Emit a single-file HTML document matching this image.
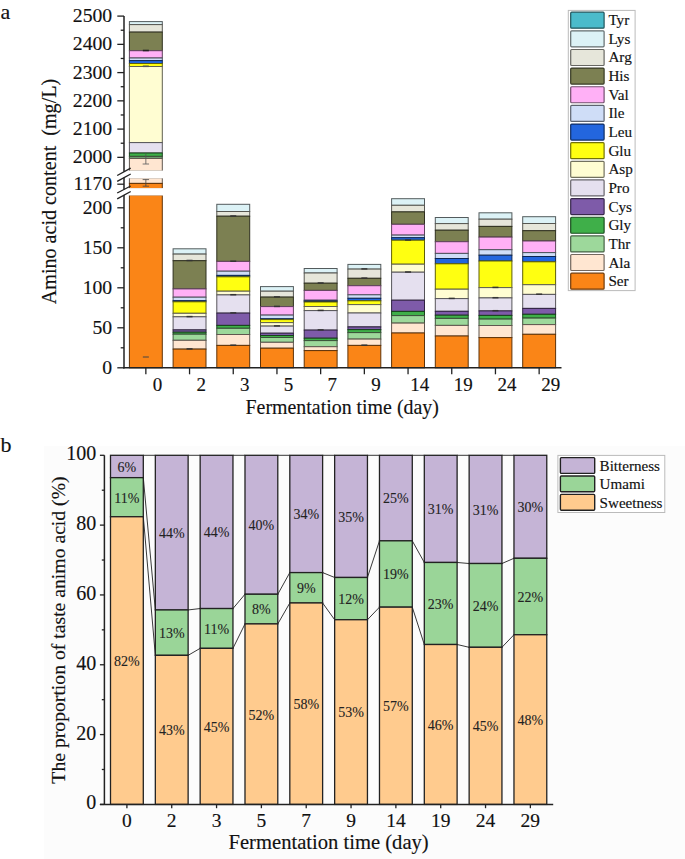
<!DOCTYPE html>
<html><head><meta charset="utf-8"><style>
html,body{margin:0;padding:0;background:#fff;}
svg{display:block;font-family:"Liberation Serif", serif;}
text{fill:#111;stroke:#111;stroke-width:0.15px;}
</style></head><body>
<svg width="685" height="859" viewBox="0 0 685 859">
<rect width="685" height="859" fill="#fff"/>
<rect x="173.10" y="248.80" width="32.90" height="5.30" fill="#DCF2F6" stroke="#535b5d" stroke-width="1.0"/>
<rect x="173.10" y="254.10" width="32.90" height="6.60" fill="#E6E6DA" stroke="#575752" stroke-width="1.0"/>
<rect x="173.10" y="260.70" width="32.90" height="28.20" fill="#7C8052" stroke="#2f301f" stroke-width="1.0"/>
<rect x="173.10" y="288.90" width="32.90" height="8.30" fill="#FFB0F6" stroke="#60425d" stroke-width="1.0"/>
<rect x="173.10" y="297.20" width="32.90" height="3.50" fill="#CFDDF7" stroke="#4e535d" stroke-width="1.0"/>
<rect x="173.10" y="300.70" width="32.90" height="1.10" fill="#2366DE" stroke="#0d2654" stroke-width="1.0"/>
<rect x="173.10" y="301.80" width="32.90" height="11.50" fill="#FFFF11" stroke="#606006" stroke-width="1.0"/>
<rect x="173.10" y="313.30" width="32.90" height="3.50" fill="#FFFDD2" stroke="#60604f" stroke-width="1.0"/>
<rect x="173.10" y="316.80" width="32.90" height="13.10" fill="#E5E0EF" stroke="#57555a" stroke-width="1.0"/>
<rect x="173.10" y="329.90" width="32.90" height="2.30" fill="#7E5BA9" stroke="#2f2240" stroke-width="1.0"/>
<rect x="173.10" y="332.20" width="32.90" height="2.00" fill="#3FAF49" stroke="#17421b" stroke-width="1.0"/>
<rect x="173.10" y="334.20" width="32.90" height="6.10" fill="#9DD89B" stroke="#3b523a" stroke-width="1.0"/>
<rect x="173.10" y="340.30" width="32.90" height="8.80" fill="#FFE6D1" stroke="#60574f" stroke-width="1.0"/>
<rect x="173.10" y="349.10" width="32.90" height="18.70" fill="#FA8517" stroke="#5f3208" stroke-width="1.0"/>
<rect x="216.80" y="204.30" width="32.90" height="7.20" fill="#DCF2F6" stroke="#535b5d" stroke-width="1.0"/>
<rect x="216.80" y="211.50" width="32.90" height="4.70" fill="#E6E6DA" stroke="#575752" stroke-width="1.0"/>
<rect x="216.80" y="216.20" width="32.90" height="45.20" fill="#7C8052" stroke="#2f301f" stroke-width="1.0"/>
<rect x="216.80" y="261.40" width="32.90" height="9.80" fill="#FFB0F6" stroke="#60425d" stroke-width="1.0"/>
<rect x="216.80" y="271.20" width="32.90" height="4.20" fill="#CFDDF7" stroke="#4e535d" stroke-width="1.0"/>
<rect x="216.80" y="275.40" width="32.90" height="1.40" fill="#2366DE" stroke="#0d2654" stroke-width="1.0"/>
<rect x="216.80" y="276.80" width="32.90" height="14.40" fill="#FFFF11" stroke="#606006" stroke-width="1.0"/>
<rect x="216.80" y="291.20" width="32.90" height="3.70" fill="#FFFDD2" stroke="#60604f" stroke-width="1.0"/>
<rect x="216.80" y="294.90" width="32.90" height="18.20" fill="#E5E0EF" stroke="#57555a" stroke-width="1.0"/>
<rect x="216.80" y="313.10" width="32.90" height="12.30" fill="#7E5BA9" stroke="#2f2240" stroke-width="1.0"/>
<rect x="216.80" y="325.40" width="32.90" height="2.90" fill="#3FAF49" stroke="#17421b" stroke-width="1.0"/>
<rect x="216.80" y="328.30" width="32.90" height="6.20" fill="#9DD89B" stroke="#3b523a" stroke-width="1.0"/>
<rect x="216.80" y="334.50" width="32.90" height="10.90" fill="#FFE6D1" stroke="#60574f" stroke-width="1.0"/>
<rect x="216.80" y="345.40" width="32.90" height="22.40" fill="#FA8517" stroke="#5f3208" stroke-width="1.0"/>
<rect x="260.50" y="286.60" width="32.90" height="4.60" fill="#DCF2F6" stroke="#535b5d" stroke-width="1.0"/>
<rect x="260.50" y="291.20" width="32.90" height="5.90" fill="#E6E6DA" stroke="#575752" stroke-width="1.0"/>
<rect x="260.50" y="297.10" width="32.90" height="9.50" fill="#7C8052" stroke="#2f301f" stroke-width="1.0"/>
<rect x="260.50" y="306.60" width="32.90" height="8.50" fill="#FFB0F6" stroke="#60425d" stroke-width="1.0"/>
<rect x="260.50" y="315.10" width="32.90" height="3.70" fill="#CFDDF7" stroke="#4e535d" stroke-width="1.0"/>
<rect x="260.50" y="318.80" width="32.90" height="0.80" fill="#2366DE" stroke="#0d2654" stroke-width="1.0"/>
<rect x="260.50" y="319.60" width="32.90" height="3.00" fill="#FFFF11" stroke="#606006" stroke-width="1.0"/>
<rect x="260.50" y="322.60" width="32.90" height="3.50" fill="#FFFDD2" stroke="#60604f" stroke-width="1.0"/>
<rect x="260.50" y="326.10" width="32.90" height="7.10" fill="#E5E0EF" stroke="#57555a" stroke-width="1.0"/>
<rect x="260.50" y="333.20" width="32.90" height="2.30" fill="#7E5BA9" stroke="#2f2240" stroke-width="1.0"/>
<rect x="260.50" y="335.50" width="32.90" height="2.00" fill="#3FAF49" stroke="#17421b" stroke-width="1.0"/>
<rect x="260.50" y="337.50" width="32.90" height="4.80" fill="#9DD89B" stroke="#3b523a" stroke-width="1.0"/>
<rect x="260.50" y="342.30" width="32.90" height="5.90" fill="#FFE6D1" stroke="#60574f" stroke-width="1.0"/>
<rect x="260.50" y="348.20" width="32.90" height="19.60" fill="#FA8517" stroke="#5f3208" stroke-width="1.0"/>
<rect x="304.20" y="268.50" width="32.90" height="4.50" fill="#DCF2F6" stroke="#535b5d" stroke-width="1.0"/>
<rect x="304.20" y="273.00" width="32.90" height="10.20" fill="#E6E6DA" stroke="#575752" stroke-width="1.0"/>
<rect x="304.20" y="283.20" width="32.90" height="7.20" fill="#7C8052" stroke="#2f301f" stroke-width="1.0"/>
<rect x="304.20" y="290.40" width="32.90" height="9.80" fill="#FFB0F6" stroke="#60425d" stroke-width="1.0"/>
<rect x="304.20" y="300.20" width="32.90" height="0.80" fill="#CFDDF7" stroke="#4e535d" stroke-width="1.0"/>
<rect x="304.20" y="301.00" width="32.90" height="1.00" fill="#2366DE" stroke="#0d2654" stroke-width="1.0"/>
<rect x="304.20" y="302.00" width="32.90" height="4.50" fill="#FFFF11" stroke="#606006" stroke-width="1.0"/>
<rect x="304.20" y="306.50" width="32.90" height="4.10" fill="#FFFDD2" stroke="#60604f" stroke-width="1.0"/>
<rect x="304.20" y="310.60" width="32.90" height="19.50" fill="#E5E0EF" stroke="#57555a" stroke-width="1.0"/>
<rect x="304.20" y="330.10" width="32.90" height="8.10" fill="#7E5BA9" stroke="#2f2240" stroke-width="1.0"/>
<rect x="304.20" y="338.20" width="32.90" height="2.40" fill="#3FAF49" stroke="#17421b" stroke-width="1.0"/>
<rect x="304.20" y="340.60" width="32.90" height="6.10" fill="#9DD89B" stroke="#3b523a" stroke-width="1.0"/>
<rect x="304.20" y="346.70" width="32.90" height="3.90" fill="#FFE6D1" stroke="#60574f" stroke-width="1.0"/>
<rect x="304.20" y="350.60" width="32.90" height="17.20" fill="#FA8517" stroke="#5f3208" stroke-width="1.0"/>
<rect x="347.90" y="264.40" width="32.90" height="4.70" fill="#DCF2F6" stroke="#535b5d" stroke-width="1.0"/>
<rect x="347.90" y="269.10" width="32.90" height="9.20" fill="#E6E6DA" stroke="#575752" stroke-width="1.0"/>
<rect x="347.90" y="278.30" width="32.90" height="7.40" fill="#7C8052" stroke="#2f301f" stroke-width="1.0"/>
<rect x="347.90" y="285.70" width="32.90" height="9.10" fill="#FFB0F6" stroke="#60425d" stroke-width="1.0"/>
<rect x="347.90" y="294.80" width="32.90" height="3.50" fill="#CFDDF7" stroke="#4e535d" stroke-width="1.0"/>
<rect x="347.90" y="298.30" width="32.90" height="2.50" fill="#2366DE" stroke="#0d2654" stroke-width="1.0"/>
<rect x="347.90" y="300.80" width="32.90" height="3.80" fill="#FFFF11" stroke="#606006" stroke-width="1.0"/>
<rect x="347.90" y="304.60" width="32.90" height="8.40" fill="#FFFDD2" stroke="#60604f" stroke-width="1.0"/>
<rect x="347.90" y="313.00" width="32.90" height="13.90" fill="#E5E0EF" stroke="#57555a" stroke-width="1.0"/>
<rect x="347.90" y="326.90" width="32.90" height="2.70" fill="#7E5BA9" stroke="#2f2240" stroke-width="1.0"/>
<rect x="347.90" y="329.60" width="32.90" height="3.00" fill="#3FAF49" stroke="#17421b" stroke-width="1.0"/>
<rect x="347.90" y="332.60" width="32.90" height="6.50" fill="#9DD89B" stroke="#3b523a" stroke-width="1.0"/>
<rect x="347.90" y="339.10" width="32.90" height="6.30" fill="#FFE6D1" stroke="#60574f" stroke-width="1.0"/>
<rect x="347.90" y="345.40" width="32.90" height="22.40" fill="#FA8517" stroke="#5f3208" stroke-width="1.0"/>
<rect x="391.60" y="198.70" width="32.90" height="6.60" fill="#DCF2F6" stroke="#535b5d" stroke-width="1.0"/>
<rect x="391.60" y="205.30" width="32.90" height="6.60" fill="#E6E6DA" stroke="#575752" stroke-width="1.0"/>
<rect x="391.60" y="211.90" width="32.90" height="12.40" fill="#7C8052" stroke="#2f301f" stroke-width="1.0"/>
<rect x="391.60" y="224.30" width="32.90" height="10.80" fill="#FFB0F6" stroke="#60425d" stroke-width="1.0"/>
<rect x="391.60" y="235.10" width="32.90" height="2.60" fill="#CFDDF7" stroke="#4e535d" stroke-width="1.0"/>
<rect x="391.60" y="237.70" width="32.90" height="2.50" fill="#2366DE" stroke="#0d2654" stroke-width="1.0"/>
<rect x="391.60" y="240.20" width="32.90" height="24.00" fill="#FFFF11" stroke="#606006" stroke-width="1.0"/>
<rect x="391.60" y="264.20" width="32.90" height="8.00" fill="#FFFDD2" stroke="#60604f" stroke-width="1.0"/>
<rect x="391.60" y="272.20" width="32.90" height="28.00" fill="#E5E0EF" stroke="#57555a" stroke-width="1.0"/>
<rect x="391.60" y="300.20" width="32.90" height="11.20" fill="#7E5BA9" stroke="#2f2240" stroke-width="1.0"/>
<rect x="391.60" y="311.40" width="32.90" height="4.20" fill="#3FAF49" stroke="#17421b" stroke-width="1.0"/>
<rect x="391.60" y="315.60" width="32.90" height="7.50" fill="#9DD89B" stroke="#3b523a" stroke-width="1.0"/>
<rect x="391.60" y="323.10" width="32.90" height="9.90" fill="#FFE6D1" stroke="#60574f" stroke-width="1.0"/>
<rect x="391.60" y="333.00" width="32.90" height="34.80" fill="#FA8517" stroke="#5f3208" stroke-width="1.0"/>
<rect x="435.30" y="217.50" width="32.90" height="6.10" fill="#DCF2F6" stroke="#535b5d" stroke-width="1.0"/>
<rect x="435.30" y="223.60" width="32.90" height="6.60" fill="#E6E6DA" stroke="#575752" stroke-width="1.0"/>
<rect x="435.30" y="230.20" width="32.90" height="11.50" fill="#7C8052" stroke="#2f301f" stroke-width="1.0"/>
<rect x="435.30" y="241.70" width="32.90" height="11.70" fill="#FFB0F6" stroke="#60425d" stroke-width="1.0"/>
<rect x="435.30" y="253.40" width="32.90" height="5.10" fill="#CFDDF7" stroke="#4e535d" stroke-width="1.0"/>
<rect x="435.30" y="258.50" width="32.90" height="5.30" fill="#2366DE" stroke="#0d2654" stroke-width="1.0"/>
<rect x="435.30" y="263.80" width="32.90" height="25.40" fill="#FFFF11" stroke="#606006" stroke-width="1.0"/>
<rect x="435.30" y="289.20" width="32.90" height="9.40" fill="#FFFDD2" stroke="#60604f" stroke-width="1.0"/>
<rect x="435.30" y="298.60" width="32.90" height="12.70" fill="#E5E0EF" stroke="#57555a" stroke-width="1.0"/>
<rect x="435.30" y="311.30" width="32.90" height="3.90" fill="#7E5BA9" stroke="#2f2240" stroke-width="1.0"/>
<rect x="435.30" y="315.20" width="32.90" height="3.20" fill="#3FAF49" stroke="#17421b" stroke-width="1.0"/>
<rect x="435.30" y="318.40" width="32.90" height="7.00" fill="#9DD89B" stroke="#3b523a" stroke-width="1.0"/>
<rect x="435.30" y="325.40" width="32.90" height="10.60" fill="#FFE6D1" stroke="#60574f" stroke-width="1.0"/>
<rect x="435.30" y="336.00" width="32.90" height="31.80" fill="#FA8517" stroke="#5f3208" stroke-width="1.0"/>
<rect x="479.00" y="212.80" width="32.90" height="6.40" fill="#DCF2F6" stroke="#535b5d" stroke-width="1.0"/>
<rect x="479.00" y="219.20" width="32.90" height="7.20" fill="#E6E6DA" stroke="#575752" stroke-width="1.0"/>
<rect x="479.00" y="226.40" width="32.90" height="10.70" fill="#7C8052" stroke="#2f301f" stroke-width="1.0"/>
<rect x="479.00" y="237.10" width="32.90" height="12.60" fill="#FFB0F6" stroke="#60425d" stroke-width="1.0"/>
<rect x="479.00" y="249.70" width="32.90" height="5.50" fill="#CFDDF7" stroke="#4e535d" stroke-width="1.0"/>
<rect x="479.00" y="255.20" width="32.90" height="5.80" fill="#2366DE" stroke="#0d2654" stroke-width="1.0"/>
<rect x="479.00" y="261.00" width="32.90" height="26.60" fill="#FFFF11" stroke="#606006" stroke-width="1.0"/>
<rect x="479.00" y="287.60" width="32.90" height="10.30" fill="#FFFDD2" stroke="#60604f" stroke-width="1.0"/>
<rect x="479.00" y="297.90" width="32.90" height="13.00" fill="#E5E0EF" stroke="#57555a" stroke-width="1.0"/>
<rect x="479.00" y="310.90" width="32.90" height="4.50" fill="#7E5BA9" stroke="#2f2240" stroke-width="1.0"/>
<rect x="479.00" y="315.40" width="32.90" height="3.70" fill="#3FAF49" stroke="#17421b" stroke-width="1.0"/>
<rect x="479.00" y="319.10" width="32.90" height="6.40" fill="#9DD89B" stroke="#3b523a" stroke-width="1.0"/>
<rect x="479.00" y="325.50" width="32.90" height="12.10" fill="#FFE6D1" stroke="#60574f" stroke-width="1.0"/>
<rect x="479.00" y="337.60" width="32.90" height="30.20" fill="#FA8517" stroke="#5f3208" stroke-width="1.0"/>
<rect x="522.70" y="216.70" width="32.90" height="6.80" fill="#DCF2F6" stroke="#535b5d" stroke-width="1.0"/>
<rect x="522.70" y="223.50" width="32.90" height="7.20" fill="#E6E6DA" stroke="#575752" stroke-width="1.0"/>
<rect x="522.70" y="230.70" width="32.90" height="10.30" fill="#7C8052" stroke="#2f301f" stroke-width="1.0"/>
<rect x="522.70" y="241.00" width="32.90" height="11.60" fill="#FFB0F6" stroke="#60425d" stroke-width="1.0"/>
<rect x="522.70" y="252.60" width="32.90" height="3.90" fill="#CFDDF7" stroke="#4e535d" stroke-width="1.0"/>
<rect x="522.70" y="256.50" width="32.90" height="5.30" fill="#2366DE" stroke="#0d2654" stroke-width="1.0"/>
<rect x="522.70" y="261.80" width="32.90" height="22.90" fill="#FFFF11" stroke="#606006" stroke-width="1.0"/>
<rect x="522.70" y="284.70" width="32.90" height="9.70" fill="#FFFDD2" stroke="#60604f" stroke-width="1.0"/>
<rect x="522.70" y="294.40" width="32.90" height="14.00" fill="#E5E0EF" stroke="#57555a" stroke-width="1.0"/>
<rect x="522.70" y="308.40" width="32.90" height="5.90" fill="#7E5BA9" stroke="#2f2240" stroke-width="1.0"/>
<rect x="522.70" y="314.30" width="32.90" height="3.80" fill="#3FAF49" stroke="#17421b" stroke-width="1.0"/>
<rect x="522.70" y="318.10" width="32.90" height="6.50" fill="#9DD89B" stroke="#3b523a" stroke-width="1.0"/>
<rect x="522.70" y="324.60" width="32.90" height="9.70" fill="#FFE6D1" stroke="#60574f" stroke-width="1.0"/>
<rect x="522.70" y="334.30" width="32.90" height="33.50" fill="#FA8517" stroke="#5f3208" stroke-width="1.0"/>
<rect x="129.40" y="21.60" width="32.90" height="3.00" fill="#DCF2F6" stroke="#535b5d" stroke-width="1.0"/>
<rect x="129.40" y="24.60" width="32.90" height="7.50" fill="#E6E6DA" stroke="#575752" stroke-width="1.0"/>
<rect x="129.40" y="32.10" width="32.90" height="18.60" fill="#7C8052" stroke="#2f301f" stroke-width="1.0"/>
<rect x="129.40" y="50.70" width="32.90" height="7.30" fill="#FFB0F6" stroke="#60425d" stroke-width="1.0"/>
<rect x="129.40" y="58.00" width="32.90" height="2.60" fill="#CFDDF7" stroke="#4e535d" stroke-width="1.0"/>
<rect x="129.40" y="60.60" width="32.90" height="2.90" fill="#2366DE" stroke="#0d2654" stroke-width="1.0"/>
<rect x="129.40" y="63.50" width="32.90" height="3.00" fill="#FFFF11" stroke="#606006" stroke-width="1.0"/>
<rect x="129.40" y="66.50" width="32.90" height="76.10" fill="#FFFDD2" stroke="#60604f" stroke-width="1.0"/>
<rect x="129.40" y="142.60" width="32.90" height="10.40" fill="#E5E0EF" stroke="#57555a" stroke-width="1.0"/>
<rect x="129.40" y="153.00" width="32.90" height="3.40" fill="#3FAF49" stroke="#17421b" stroke-width="1.0"/>
<rect x="129.40" y="156.40" width="32.90" height="2.10" fill="#6E9A6E" stroke="#3b523a" stroke-width="1.0"/>
<rect x="129.40" y="158.50" width="32.90" height="12.60" fill="#FFE6D1" stroke="#60574f" stroke-width="1.0"/>
<rect x="129.40" y="177.80" width="32.90" height="5.60" fill="#FFE6D1" stroke="#60574f" stroke-width="1.0"/>
<rect x="129.40" y="183.40" width="32.90" height="5.20" fill="#FA8517" stroke="#5f3208" stroke-width="1.0"/>
<rect x="129.40" y="195.00" width="32.90" height="172.80" fill="#FA8517" stroke="#5f3208" stroke-width="1.0"/>
<rect x="128.40" y="170.6" width="34.90" height="7.7" fill="#fff"/>
<rect x="128.40" y="188.1" width="34.90" height="7.4" fill="#fff"/>
<line x1="145.85" y1="153.80" x2="145.85" y2="164.00" stroke="#555" stroke-width="0.8"/>
<line x1="142.65" y1="164.00" x2="149.05" y2="164.00" stroke="#666" stroke-width="0.9"/>
<line x1="145.85" y1="179.60" x2="145.85" y2="186.20" stroke="#444" stroke-width="0.8"/>
<line x1="142.65" y1="179.60" x2="149.05" y2="179.60" stroke="#444" stroke-width="0.8"/>
<line x1="142.65" y1="186.20" x2="149.05" y2="186.20" stroke="#444" stroke-width="0.8"/>
<line x1="142.85" y1="357.00" x2="148.85" y2="357.00" stroke="#444" stroke-width="1.0"/>
<line x1="142.85" y1="50.50" x2="148.85" y2="50.50" stroke="#222" stroke-width="1.6"/>
<line x1="142.85" y1="66.30" x2="148.85" y2="66.30" stroke="#555" stroke-width="1.6"/>
<line x1="186.55" y1="260.50" x2="192.55" y2="260.50" stroke="#333" stroke-width="1.5"/>
<line x1="186.55" y1="316.60" x2="192.55" y2="316.60" stroke="#333" stroke-width="1.5"/>
<line x1="186.55" y1="348.90" x2="192.55" y2="348.90" stroke="#333" stroke-width="1.5"/>
<line x1="230.25" y1="216.00" x2="236.25" y2="216.00" stroke="#333" stroke-width="1.5"/>
<line x1="230.25" y1="261.20" x2="236.25" y2="261.20" stroke="#333" stroke-width="1.5"/>
<line x1="230.25" y1="294.70" x2="236.25" y2="294.70" stroke="#333" stroke-width="1.5"/>
<line x1="230.25" y1="312.90" x2="236.25" y2="312.90" stroke="#333" stroke-width="1.5"/>
<line x1="230.25" y1="345.20" x2="236.25" y2="345.20" stroke="#333" stroke-width="1.5"/>
<line x1="273.95" y1="296.90" x2="279.95" y2="296.90" stroke="#333" stroke-width="1.5"/>
<line x1="273.95" y1="306.40" x2="279.95" y2="306.40" stroke="#333" stroke-width="1.5"/>
<line x1="273.95" y1="325.90" x2="279.95" y2="325.90" stroke="#333" stroke-width="1.5"/>
<line x1="317.65" y1="283.00" x2="323.65" y2="283.00" stroke="#333" stroke-width="1.5"/>
<line x1="317.65" y1="310.40" x2="323.65" y2="310.40" stroke="#333" stroke-width="1.5"/>
<line x1="317.65" y1="329.90" x2="323.65" y2="329.90" stroke="#333" stroke-width="1.5"/>
<line x1="361.35" y1="268.90" x2="367.35" y2="268.90" stroke="#333" stroke-width="1.5"/>
<line x1="361.35" y1="278.10" x2="367.35" y2="278.10" stroke="#333" stroke-width="1.5"/>
<line x1="361.35" y1="345.20" x2="367.35" y2="345.20" stroke="#333" stroke-width="1.5"/>
<line x1="405.05" y1="240.00" x2="411.05" y2="240.00" stroke="#333" stroke-width="1.5"/>
<line x1="405.05" y1="272.00" x2="411.05" y2="272.00" stroke="#333" stroke-width="1.5"/>
<line x1="448.75" y1="298.40" x2="454.75" y2="298.40" stroke="#333" stroke-width="1.5"/>
<line x1="492.45" y1="287.40" x2="498.45" y2="287.40" stroke="#333" stroke-width="1.5"/>
<line x1="492.45" y1="297.70" x2="498.45" y2="297.70" stroke="#333" stroke-width="1.5"/>
<line x1="492.45" y1="310.70" x2="498.45" y2="310.70" stroke="#333" stroke-width="1.5"/>
<line x1="536.15" y1="294.20" x2="542.15" y2="294.20" stroke="#333" stroke-width="1.5"/>
<line x1="124.00" y1="16.10" x2="124.00" y2="171.80" stroke="#222" stroke-width="1.5"/>
<line x1="124.00" y1="177.60" x2="124.00" y2="189.50" stroke="#222" stroke-width="1.5"/>
<line x1="124.00" y1="195.10" x2="124.00" y2="368.50" stroke="#222" stroke-width="1.5"/>
<line x1="123.30" y1="367.80" x2="561.50" y2="367.80" stroke="#222" stroke-width="1.5"/>
<line x1="117.30" y1="157.35" x2="124.00" y2="157.35" stroke="#222" stroke-width="1.3"/>
<text x="112.20" y="163.25" font-size="19.7" text-anchor="end" >2000</text>
<line x1="120.70" y1="143.22" x2="124.00" y2="143.22" stroke="#222" stroke-width="1.3"/>
<line x1="117.30" y1="129.10" x2="124.00" y2="129.10" stroke="#222" stroke-width="1.3"/>
<text x="112.20" y="135.00" font-size="19.7" text-anchor="end" >2100</text>
<line x1="120.70" y1="114.97" x2="124.00" y2="114.97" stroke="#222" stroke-width="1.3"/>
<line x1="117.30" y1="100.85" x2="124.00" y2="100.85" stroke="#222" stroke-width="1.3"/>
<text x="112.20" y="106.75" font-size="19.7" text-anchor="end" >2200</text>
<line x1="120.70" y1="86.72" x2="124.00" y2="86.72" stroke="#222" stroke-width="1.3"/>
<line x1="117.30" y1="72.60" x2="124.00" y2="72.60" stroke="#222" stroke-width="1.3"/>
<text x="112.20" y="78.50" font-size="19.7" text-anchor="end" >2300</text>
<line x1="120.70" y1="58.47" x2="124.00" y2="58.47" stroke="#222" stroke-width="1.3"/>
<line x1="117.30" y1="44.35" x2="124.00" y2="44.35" stroke="#222" stroke-width="1.3"/>
<text x="112.20" y="50.25" font-size="19.7" text-anchor="end" >2400</text>
<line x1="120.70" y1="30.23" x2="124.00" y2="30.23" stroke="#222" stroke-width="1.3"/>
<line x1="117.30" y1="16.10" x2="124.00" y2="16.10" stroke="#222" stroke-width="1.3"/>
<text x="112.20" y="22.00" font-size="19.7" text-anchor="end" >2500</text>
<line x1="117.30" y1="184.20" x2="124.00" y2="184.20" stroke="#222" stroke-width="1.3"/>
<text x="112.20" y="189.90" font-size="19.7" text-anchor="end" >1170</text>
<line x1="117.30" y1="367.80" x2="124.00" y2="367.80" stroke="#222" stroke-width="1.3"/>
<text x="112.20" y="373.70" font-size="19.7" text-anchor="end" >0</text>
<line x1="120.70" y1="347.80" x2="124.00" y2="347.80" stroke="#222" stroke-width="1.3"/>
<line x1="117.30" y1="327.80" x2="124.00" y2="327.80" stroke="#222" stroke-width="1.3"/>
<text x="112.20" y="333.70" font-size="19.7" text-anchor="end" >50</text>
<line x1="120.70" y1="307.80" x2="124.00" y2="307.80" stroke="#222" stroke-width="1.3"/>
<line x1="117.30" y1="287.80" x2="124.00" y2="287.80" stroke="#222" stroke-width="1.3"/>
<text x="112.20" y="293.70" font-size="19.7" text-anchor="end" >100</text>
<line x1="120.70" y1="267.80" x2="124.00" y2="267.80" stroke="#222" stroke-width="1.3"/>
<line x1="117.30" y1="247.80" x2="124.00" y2="247.80" stroke="#222" stroke-width="1.3"/>
<text x="112.20" y="253.70" font-size="19.7" text-anchor="end" >150</text>
<line x1="120.70" y1="227.80" x2="124.00" y2="227.80" stroke="#222" stroke-width="1.3"/>
<line x1="117.30" y1="207.80" x2="124.00" y2="207.80" stroke="#222" stroke-width="1.3"/>
<text x="112.20" y="213.70" font-size="19.7" text-anchor="end" >200</text>
<line x1="117.20" y1="175.50" x2="130.70" y2="168.20" stroke="#222" stroke-width="1.4"/>
<line x1="117.20" y1="181.30" x2="130.70" y2="174.00" stroke="#222" stroke-width="1.4"/>
<line x1="117.20" y1="193.00" x2="130.70" y2="186.00" stroke="#222" stroke-width="1.4"/>
<line x1="117.20" y1="198.80" x2="130.70" y2="191.50" stroke="#222" stroke-width="1.4"/>
<line x1="145.85" y1="367.80" x2="145.85" y2="374.30" stroke="#222" stroke-width="1.3"/>
<text x="157.45" y="391.40" font-size="19" text-anchor="middle" >0</text>
<line x1="189.55" y1="367.80" x2="189.55" y2="374.30" stroke="#222" stroke-width="1.3"/>
<text x="201.15" y="391.40" font-size="19" text-anchor="middle" >2</text>
<line x1="233.25" y1="367.80" x2="233.25" y2="374.30" stroke="#222" stroke-width="1.3"/>
<text x="244.85" y="391.40" font-size="19" text-anchor="middle" >3</text>
<line x1="276.95" y1="367.80" x2="276.95" y2="374.30" stroke="#222" stroke-width="1.3"/>
<text x="288.55" y="391.40" font-size="19" text-anchor="middle" >5</text>
<line x1="320.65" y1="367.80" x2="320.65" y2="374.30" stroke="#222" stroke-width="1.3"/>
<text x="332.25" y="391.40" font-size="19" text-anchor="middle" >7</text>
<line x1="364.35" y1="367.80" x2="364.35" y2="374.30" stroke="#222" stroke-width="1.3"/>
<text x="375.95" y="391.40" font-size="19" text-anchor="middle" >9</text>
<line x1="408.05" y1="367.80" x2="408.05" y2="374.30" stroke="#222" stroke-width="1.3"/>
<text x="419.65" y="391.40" font-size="19" text-anchor="middle" >14</text>
<line x1="451.75" y1="367.80" x2="451.75" y2="374.30" stroke="#222" stroke-width="1.3"/>
<text x="463.35" y="391.40" font-size="19" text-anchor="middle" >19</text>
<line x1="495.45" y1="367.80" x2="495.45" y2="374.30" stroke="#222" stroke-width="1.3"/>
<text x="507.05" y="391.40" font-size="19" text-anchor="middle" >24</text>
<line x1="539.15" y1="367.80" x2="539.15" y2="374.30" stroke="#222" stroke-width="1.3"/>
<text x="550.75" y="391.40" font-size="19" text-anchor="middle" >29</text>
<text x="342.20" y="413.90" font-size="19.9" text-anchor="middle" >Fermentation time (day)</text>
<text transform="translate(56.3,191.5) rotate(-90)" font-size="20.1" text-anchor="middle" xml:space="preserve" style="white-space:pre">Amino acid content  (mg/L)</text>
<text x="0.50" y="19.00" font-size="22" text-anchor="start" >a</text>
<rect x="568.3" y="10.4" width="66.8" height="280.2" fill="#fff" stroke="#bbb" stroke-width="1"/>
<rect x="570.7" y="12.20" width="33.4" height="16.0" rx="1" fill="#4BBBCB" stroke="#21545b" stroke-width="1.2"/>
<text x="608.40" y="25.20" font-size="15.2" text-anchor="start" >Tyr</text>
<rect x="570.7" y="30.84" width="33.4" height="16.0" rx="1" fill="#DCF2F6" stroke="#636c6e" stroke-width="1.2"/>
<text x="608.40" y="43.84" font-size="15.2" text-anchor="start" >Lys</text>
<rect x="570.7" y="49.48" width="33.4" height="16.0" rx="1" fill="#E6E6DA" stroke="#676762" stroke-width="1.2"/>
<text x="608.40" y="62.48" font-size="15.2" text-anchor="start" >Arg</text>
<rect x="570.7" y="68.12" width="33.4" height="16.0" rx="1" fill="#7C8052" stroke="#373924" stroke-width="1.2"/>
<text x="608.40" y="81.12" font-size="15.2" text-anchor="start" >His</text>
<rect x="570.7" y="86.76" width="33.4" height="16.0" rx="1" fill="#FFB0F6" stroke="#724f6e" stroke-width="1.2"/>
<text x="608.40" y="99.76" font-size="15.2" text-anchor="start" >Val</text>
<rect x="570.7" y="105.40" width="33.4" height="16.0" rx="1" fill="#CFDDF7" stroke="#5d636f" stroke-width="1.2"/>
<text x="608.40" y="118.40" font-size="15.2" text-anchor="start" >Ile</text>
<rect x="570.7" y="124.04" width="33.4" height="16.0" rx="1" fill="#2366DE" stroke="#0f2d63" stroke-width="1.2"/>
<text x="608.40" y="137.04" font-size="15.2" text-anchor="start" >Leu</text>
<rect x="570.7" y="142.68" width="33.4" height="16.0" rx="1" fill="#FFFF11" stroke="#727207" stroke-width="1.2"/>
<text x="608.40" y="155.68" font-size="15.2" text-anchor="start" >Glu</text>
<rect x="570.7" y="161.32" width="33.4" height="16.0" rx="1" fill="#FFFDD2" stroke="#72715e" stroke-width="1.2"/>
<text x="608.40" y="174.32" font-size="15.2" text-anchor="start" >Asp</text>
<rect x="570.7" y="179.96" width="33.4" height="16.0" rx="1" fill="#E5E0EF" stroke="#67646b" stroke-width="1.2"/>
<text x="608.40" y="192.96" font-size="15.2" text-anchor="start" >Pro</text>
<rect x="570.7" y="198.60" width="33.4" height="16.0" rx="1" fill="#7E5BA9" stroke="#38284c" stroke-width="1.2"/>
<text x="608.40" y="211.60" font-size="15.2" text-anchor="start" >Cys</text>
<rect x="570.7" y="217.24" width="33.4" height="16.0" rx="1" fill="#3FAF49" stroke="#1c4e20" stroke-width="1.2"/>
<text x="608.40" y="230.24" font-size="15.2" text-anchor="start" >Gly</text>
<rect x="570.7" y="235.88" width="33.4" height="16.0" rx="1" fill="#9DD89B" stroke="#466145" stroke-width="1.2"/>
<text x="608.40" y="248.88" font-size="15.2" text-anchor="start" >Thr</text>
<rect x="570.7" y="254.52" width="33.4" height="16.0" rx="1" fill="#FFE6D1" stroke="#72675e" stroke-width="1.2"/>
<text x="608.40" y="267.52" font-size="15.2" text-anchor="start" >Ala</text>
<rect x="570.7" y="273.16" width="33.4" height="16.0" rx="1" fill="#FA8517" stroke="#703b0a" stroke-width="1.2"/>
<text x="608.40" y="286.16" font-size="15.2" text-anchor="start" >Ser</text>
<rect x="44" y="446" width="641" height="413" fill="#fcfcfc"/>
<rect x="110.50" y="455.30" width="32.80" height="22.34" fill="#C5B4D6" stroke="#222" stroke-width="1.3"/>
<rect x="110.50" y="477.64" width="32.80" height="39.10" fill="#9AD598" stroke="#222" stroke-width="1.3"/>
<rect x="110.50" y="516.74" width="32.80" height="287.66" fill="#FFCB8E" stroke="#222" stroke-width="1.3"/>
<text x="126.90" y="471.87" font-size="14" text-anchor="middle" style="fill:#222;stroke:#222;stroke-width:0.1px">6%</text>
<text x="126.90" y="502.59" font-size="14" text-anchor="middle" style="fill:#222;stroke:#222;stroke-width:0.1px">11%</text>
<text x="126.90" y="665.97" font-size="14" text-anchor="middle" style="fill:#222;stroke:#222;stroke-width:0.1px">82%</text>
<rect x="155.33" y="455.30" width="32.80" height="154.65" fill="#C5B4D6" stroke="#222" stroke-width="1.3"/>
<rect x="155.33" y="609.95" width="32.80" height="45.38" fill="#9AD598" stroke="#222" stroke-width="1.3"/>
<rect x="155.33" y="655.33" width="32.80" height="149.07" fill="#FFCB8E" stroke="#222" stroke-width="1.3"/>
<text x="171.73" y="538.03" font-size="14" text-anchor="middle" style="fill:#222;stroke:#222;stroke-width:0.1px">44%</text>
<text x="171.73" y="638.04" font-size="14" text-anchor="middle" style="fill:#222;stroke:#222;stroke-width:0.1px">13%</text>
<text x="171.73" y="735.27" font-size="14" text-anchor="middle" style="fill:#222;stroke:#222;stroke-width:0.1px">43%</text>
<rect x="200.16" y="455.30" width="32.80" height="153.25" fill="#C5B4D6" stroke="#222" stroke-width="1.3"/>
<rect x="200.16" y="608.55" width="32.80" height="39.80" fill="#9AD598" stroke="#222" stroke-width="1.3"/>
<rect x="200.16" y="648.35" width="32.80" height="156.05" fill="#FFCB8E" stroke="#222" stroke-width="1.3"/>
<text x="216.56" y="537.33" font-size="14" text-anchor="middle" style="fill:#222;stroke:#222;stroke-width:0.1px">44%</text>
<text x="216.56" y="633.85" font-size="14" text-anchor="middle" style="fill:#222;stroke:#222;stroke-width:0.1px">11%</text>
<text x="216.56" y="731.78" font-size="14" text-anchor="middle" style="fill:#222;stroke:#222;stroke-width:0.1px">45%</text>
<rect x="244.99" y="455.30" width="32.80" height="138.94" fill="#C5B4D6" stroke="#222" stroke-width="1.3"/>
<rect x="244.99" y="594.24" width="32.80" height="29.67" fill="#9AD598" stroke="#222" stroke-width="1.3"/>
<rect x="244.99" y="623.92" width="32.80" height="180.48" fill="#FFCB8E" stroke="#222" stroke-width="1.3"/>
<text x="261.39" y="530.17" font-size="14" text-anchor="middle" style="fill:#222;stroke:#222;stroke-width:0.1px">40%</text>
<text x="261.39" y="614.48" font-size="14" text-anchor="middle" style="fill:#222;stroke:#222;stroke-width:0.1px">8%</text>
<text x="261.39" y="719.56" font-size="14" text-anchor="middle" style="fill:#222;stroke:#222;stroke-width:0.1px">52%</text>
<rect x="289.82" y="455.30" width="32.80" height="117.30" fill="#C5B4D6" stroke="#222" stroke-width="1.3"/>
<rect x="289.82" y="572.60" width="32.80" height="30.37" fill="#9AD598" stroke="#222" stroke-width="1.3"/>
<rect x="289.82" y="602.97" width="32.80" height="201.43" fill="#FFCB8E" stroke="#222" stroke-width="1.3"/>
<text x="306.22" y="519.35" font-size="14" text-anchor="middle" style="fill:#222;stroke:#222;stroke-width:0.1px">34%</text>
<text x="306.22" y="593.18" font-size="14" text-anchor="middle" style="fill:#222;stroke:#222;stroke-width:0.1px">9%</text>
<text x="306.22" y="709.08" font-size="14" text-anchor="middle" style="fill:#222;stroke:#222;stroke-width:0.1px">58%</text>
<rect x="334.65" y="455.30" width="32.80" height="122.18" fill="#C5B4D6" stroke="#222" stroke-width="1.3"/>
<rect x="334.65" y="577.48" width="32.80" height="42.24" fill="#9AD598" stroke="#222" stroke-width="1.3"/>
<rect x="334.65" y="619.73" width="32.80" height="184.67" fill="#FFCB8E" stroke="#222" stroke-width="1.3"/>
<text x="351.05" y="521.79" font-size="14" text-anchor="middle" style="fill:#222;stroke:#222;stroke-width:0.1px">35%</text>
<text x="351.05" y="604.01" font-size="14" text-anchor="middle" style="fill:#222;stroke:#222;stroke-width:0.1px">12%</text>
<text x="351.05" y="717.46" font-size="14" text-anchor="middle" style="fill:#222;stroke:#222;stroke-width:0.1px">53%</text>
<rect x="379.48" y="455.30" width="32.80" height="85.53" fill="#C5B4D6" stroke="#222" stroke-width="1.3"/>
<rect x="379.48" y="540.83" width="32.80" height="66.33" fill="#9AD598" stroke="#222" stroke-width="1.3"/>
<rect x="379.48" y="607.16" width="32.80" height="197.24" fill="#FFCB8E" stroke="#222" stroke-width="1.3"/>
<text x="395.88" y="503.46" font-size="14" text-anchor="middle" style="fill:#222;stroke:#222;stroke-width:0.1px">25%</text>
<text x="395.88" y="579.39" font-size="14" text-anchor="middle" style="fill:#222;stroke:#222;stroke-width:0.1px">19%</text>
<text x="395.88" y="711.18" font-size="14" text-anchor="middle" style="fill:#222;stroke:#222;stroke-width:0.1px">57%</text>
<rect x="424.31" y="455.30" width="32.80" height="107.17" fill="#C5B4D6" stroke="#222" stroke-width="1.3"/>
<rect x="424.31" y="562.47" width="32.80" height="82.04" fill="#9AD598" stroke="#222" stroke-width="1.3"/>
<rect x="424.31" y="644.51" width="32.80" height="159.89" fill="#FFCB8E" stroke="#222" stroke-width="1.3"/>
<text x="440.71" y="514.29" font-size="14" text-anchor="middle" style="fill:#222;stroke:#222;stroke-width:0.1px">31%</text>
<text x="440.71" y="608.89" font-size="14" text-anchor="middle" style="fill:#222;stroke:#222;stroke-width:0.1px">23%</text>
<text x="440.71" y="729.86" font-size="14" text-anchor="middle" style="fill:#222;stroke:#222;stroke-width:0.1px">46%</text>
<rect x="469.14" y="455.30" width="32.80" height="108.22" fill="#C5B4D6" stroke="#222" stroke-width="1.3"/>
<rect x="469.14" y="563.52" width="32.80" height="83.78" fill="#9AD598" stroke="#222" stroke-width="1.3"/>
<rect x="469.14" y="647.30" width="32.80" height="157.10" fill="#FFCB8E" stroke="#222" stroke-width="1.3"/>
<text x="485.54" y="514.81" font-size="14" text-anchor="middle" style="fill:#222;stroke:#222;stroke-width:0.1px">31%</text>
<text x="485.54" y="610.81" font-size="14" text-anchor="middle" style="fill:#222;stroke:#222;stroke-width:0.1px">24%</text>
<text x="485.54" y="731.25" font-size="14" text-anchor="middle" style="fill:#222;stroke:#222;stroke-width:0.1px">45%</text>
<rect x="513.97" y="455.30" width="32.80" height="102.98" fill="#C5B4D6" stroke="#222" stroke-width="1.3"/>
<rect x="513.97" y="558.28" width="32.80" height="76.45" fill="#9AD598" stroke="#222" stroke-width="1.3"/>
<rect x="513.97" y="634.74" width="32.80" height="169.66" fill="#FFCB8E" stroke="#222" stroke-width="1.3"/>
<text x="530.37" y="512.19" font-size="14" text-anchor="middle" style="fill:#222;stroke:#222;stroke-width:0.1px">30%</text>
<text x="530.37" y="601.91" font-size="14" text-anchor="middle" style="fill:#222;stroke:#222;stroke-width:0.1px">22%</text>
<text x="530.37" y="724.97" font-size="14" text-anchor="middle" style="fill:#222;stroke:#222;stroke-width:0.1px">48%</text>
<line x1="143.30" y1="455.30" x2="155.33" y2="455.30" stroke="#222" stroke-width="0.9"/>
<line x1="143.30" y1="477.64" x2="155.33" y2="609.95" stroke="#222" stroke-width="0.9"/>
<line x1="143.30" y1="516.74" x2="155.33" y2="655.33" stroke="#222" stroke-width="0.9"/>
<line x1="188.13" y1="455.30" x2="200.16" y2="455.30" stroke="#222" stroke-width="0.9"/>
<line x1="188.13" y1="609.95" x2="200.16" y2="608.55" stroke="#222" stroke-width="0.9"/>
<line x1="188.13" y1="655.33" x2="200.16" y2="648.35" stroke="#222" stroke-width="0.9"/>
<line x1="232.96" y1="455.30" x2="244.99" y2="455.30" stroke="#222" stroke-width="0.9"/>
<line x1="232.96" y1="608.55" x2="244.99" y2="594.24" stroke="#222" stroke-width="0.9"/>
<line x1="232.96" y1="648.35" x2="244.99" y2="623.92" stroke="#222" stroke-width="0.9"/>
<line x1="277.79" y1="455.30" x2="289.82" y2="455.30" stroke="#222" stroke-width="0.9"/>
<line x1="277.79" y1="594.24" x2="289.82" y2="572.60" stroke="#222" stroke-width="0.9"/>
<line x1="277.79" y1="623.92" x2="289.82" y2="602.97" stroke="#222" stroke-width="0.9"/>
<line x1="322.62" y1="455.30" x2="334.65" y2="455.30" stroke="#222" stroke-width="0.9"/>
<line x1="322.62" y1="572.60" x2="334.65" y2="577.48" stroke="#222" stroke-width="0.9"/>
<line x1="322.62" y1="602.97" x2="334.65" y2="619.73" stroke="#222" stroke-width="0.9"/>
<line x1="367.45" y1="455.30" x2="379.48" y2="455.30" stroke="#222" stroke-width="0.9"/>
<line x1="367.45" y1="577.48" x2="379.48" y2="540.83" stroke="#222" stroke-width="0.9"/>
<line x1="367.45" y1="619.73" x2="379.48" y2="607.16" stroke="#222" stroke-width="0.9"/>
<line x1="412.28" y1="455.30" x2="424.31" y2="455.30" stroke="#222" stroke-width="0.9"/>
<line x1="412.28" y1="540.83" x2="424.31" y2="562.47" stroke="#222" stroke-width="0.9"/>
<line x1="412.28" y1="607.16" x2="424.31" y2="644.51" stroke="#222" stroke-width="0.9"/>
<line x1="457.11" y1="455.30" x2="469.14" y2="455.30" stroke="#222" stroke-width="0.9"/>
<line x1="457.11" y1="562.47" x2="469.14" y2="563.52" stroke="#222" stroke-width="0.9"/>
<line x1="457.11" y1="644.51" x2="469.14" y2="647.30" stroke="#222" stroke-width="0.9"/>
<line x1="501.94" y1="455.30" x2="513.97" y2="455.30" stroke="#222" stroke-width="0.9"/>
<line x1="501.94" y1="563.52" x2="513.97" y2="558.28" stroke="#222" stroke-width="0.9"/>
<line x1="501.94" y1="647.30" x2="513.97" y2="634.74" stroke="#222" stroke-width="0.9"/>
<line x1="104.40" y1="455.30" x2="104.40" y2="805.10" stroke="#222" stroke-width="1.5"/>
<line x1="99.90" y1="804.40" x2="553.20" y2="804.40" stroke="#222" stroke-width="1.5"/>
<line x1="99.90" y1="804.40" x2="104.40" y2="804.40" stroke="#222" stroke-width="1.3"/>
<text x="96.20" y="809.40" font-size="20" text-anchor="end" >0</text>
<line x1="101.80" y1="769.49" x2="104.40" y2="769.49" stroke="#222" stroke-width="1.3"/>
<line x1="99.90" y1="734.58" x2="104.40" y2="734.58" stroke="#222" stroke-width="1.3"/>
<text x="96.20" y="739.58" font-size="20" text-anchor="end" >20</text>
<line x1="101.80" y1="699.67" x2="104.40" y2="699.67" stroke="#222" stroke-width="1.3"/>
<line x1="99.90" y1="664.76" x2="104.40" y2="664.76" stroke="#222" stroke-width="1.3"/>
<text x="96.20" y="669.76" font-size="20" text-anchor="end" >40</text>
<line x1="101.80" y1="629.85" x2="104.40" y2="629.85" stroke="#222" stroke-width="1.3"/>
<line x1="99.90" y1="594.94" x2="104.40" y2="594.94" stroke="#222" stroke-width="1.3"/>
<text x="96.20" y="599.94" font-size="20" text-anchor="end" >60</text>
<line x1="101.80" y1="560.03" x2="104.40" y2="560.03" stroke="#222" stroke-width="1.3"/>
<line x1="99.90" y1="525.12" x2="104.40" y2="525.12" stroke="#222" stroke-width="1.3"/>
<text x="96.20" y="530.12" font-size="20" text-anchor="end" >80</text>
<line x1="101.80" y1="490.21" x2="104.40" y2="490.21" stroke="#222" stroke-width="1.3"/>
<line x1="99.90" y1="455.30" x2="104.40" y2="455.30" stroke="#222" stroke-width="1.3"/>
<text x="96.20" y="460.30" font-size="20" text-anchor="end" >100</text>
<line x1="126.90" y1="804.40" x2="126.90" y2="808.20" stroke="#222" stroke-width="1.3"/>
<text x="126.90" y="827.20" font-size="19.5" text-anchor="middle" >0</text>
<line x1="171.73" y1="804.40" x2="171.73" y2="808.20" stroke="#222" stroke-width="1.3"/>
<text x="171.73" y="827.20" font-size="19.5" text-anchor="middle" >2</text>
<line x1="216.56" y1="804.40" x2="216.56" y2="808.20" stroke="#222" stroke-width="1.3"/>
<text x="216.56" y="827.20" font-size="19.5" text-anchor="middle" >3</text>
<line x1="261.39" y1="804.40" x2="261.39" y2="808.20" stroke="#222" stroke-width="1.3"/>
<text x="261.39" y="827.20" font-size="19.5" text-anchor="middle" >5</text>
<line x1="306.22" y1="804.40" x2="306.22" y2="808.20" stroke="#222" stroke-width="1.3"/>
<text x="306.22" y="827.20" font-size="19.5" text-anchor="middle" >7</text>
<line x1="351.05" y1="804.40" x2="351.05" y2="808.20" stroke="#222" stroke-width="1.3"/>
<text x="351.05" y="827.20" font-size="19.5" text-anchor="middle" >9</text>
<line x1="395.88" y1="804.40" x2="395.88" y2="808.20" stroke="#222" stroke-width="1.3"/>
<text x="395.88" y="827.20" font-size="19.5" text-anchor="middle" >14</text>
<line x1="440.71" y1="804.40" x2="440.71" y2="808.20" stroke="#222" stroke-width="1.3"/>
<text x="440.71" y="827.20" font-size="19.5" text-anchor="middle" >19</text>
<line x1="485.54" y1="804.40" x2="485.54" y2="808.20" stroke="#222" stroke-width="1.3"/>
<text x="485.54" y="827.20" font-size="19.5" text-anchor="middle" >24</text>
<line x1="530.37" y1="804.40" x2="530.37" y2="808.20" stroke="#222" stroke-width="1.3"/>
<text x="530.37" y="827.20" font-size="19.5" text-anchor="middle" >29</text>
<text x="328.60" y="848.70" font-size="20.6" text-anchor="middle" >Fermentation time (day)</text>
<text transform="translate(64.8,630) rotate(-90)" font-size="19.7" text-anchor="middle">The proportion of taste animo acid (%)</text>
<text x="0.50" y="452.00" font-size="22" text-anchor="start" >b</text>
<rect x="557.9" y="455.4" width="106.9" height="57.1" fill="#fff" stroke="#bbb" stroke-width="1"/>
<rect x="560.4" y="457.60" width="34.3" height="15.8" rx="1" fill="#C5B4D6" stroke="#222" stroke-width="1.4"/>
<text x="599.60" y="470.80" font-size="15.1" text-anchor="start" >Bitterness</text>
<rect x="560.4" y="476.00" width="34.3" height="15.8" rx="1" fill="#9AD598" stroke="#222" stroke-width="1.4"/>
<text x="599.60" y="489.20" font-size="15.1" text-anchor="start" >Umami</text>
<rect x="560.4" y="494.40" width="34.3" height="15.8" rx="1" fill="#FFCB8E" stroke="#222" stroke-width="1.4"/>
<text x="599.60" y="507.60" font-size="15.1" text-anchor="start" >Sweetness</text>
</svg>
</body></html>
